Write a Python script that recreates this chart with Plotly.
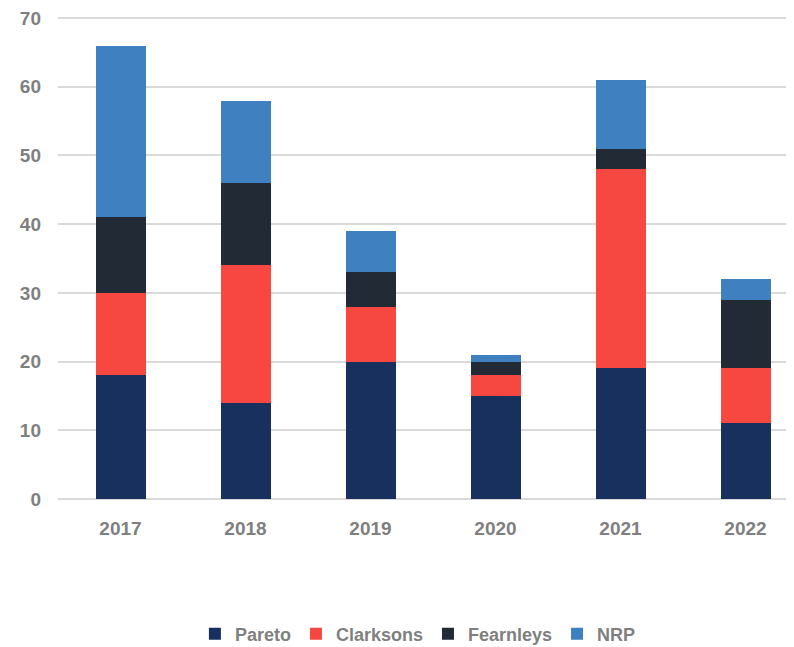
import plotly.graph_objects as go

years = ["2017", "2018", "2019", "2020", "2021", "2022"]
pareto = [18, 14, 20, 15, 19, 11]
clarksons = [12, 20, 8, 3, 29, 8]
fearnleys = [11, 12, 5, 2, 3, 10]
nrp = [25, 12, 6, 1, 10, 3]
y_ticks = [0, 10, 20, 30, 40, 50, 60, 70]

series = [
    ("Pareto", pareto, "#17305e"),
    ("Clarksons", clarksons, "#f64841"),
    ("Fearnleys", fearnleys, "#222a36"),
    ("NRP", nrp, "#3f80c0"),
]

fig = go.Figure()
for name, vals, col in series:
    fig.add_trace(go.Bar(x=years, y=vals, name=name, marker_color=col,
                         marker_line_width=0, width=0.4))

gray = "#7f7f7f"
fnt = "Liberation Sans, Arial, sans-serif"
fig.update_layout(
    barmode="stack",
    width=786, height=639,
    margin=dict(l=50, r=0, t=8, b=148, autoexpand=False),
    plot_bgcolor="white", paper_bgcolor="white",
    font=dict(family=fnt, size=19, color=gray),
    legend=dict(orientation="h", x=0.489, xanchor="center", y=-0.2795, yanchor="middle",
                traceorder="normal", font=dict(family=fnt, size=18, color=gray, weight="bold"),
                itemwidth=30),
    showlegend=True,
)
fig.update_xaxes(type="category", range=[-0.5, 5.388], showgrid=False,
                 showline=False, ticks="", automargin=False, ticklabelstandoff=16,
                 tickfont=dict(family=fnt, size=19, color=gray, weight="bold"))
fig.update_yaxes(range=[0, 70.3], tickmode="array", tickvals=y_ticks,
                 showgrid=True, gridcolor="#d9d9d9",
                 gridwidth=1.5, zeroline=True, zerolinecolor="#d9d9d9",
                 zerolinewidth=1.5, ticks="", ticklabelstandoff=16, automargin=False,
                 ticklabeloverflow="allow",
                 tickfont=dict(family=fnt, size=19, color=gray, weight="bold"))

fig.write_html("out.html")
